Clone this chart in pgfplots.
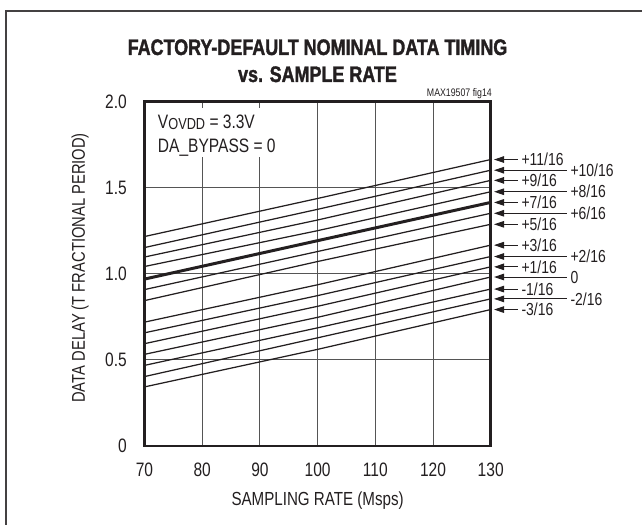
\documentclass[border=0pt]{standalone}
\usepackage{fontspec}
\setmainfont{Liberation Sans}[FakeStretch=0.8]
\newfontfamily\titlefont{Liberation Sans}[FakeStretch=0.8, BoldFeatures={FakeBold=1.5}]
\usepackage{pgfplots}
\pgfplotsset{compat=1.18}
\usetikzlibrary{arrows.meta}
\definecolor{ink}{RGB}{35,31,32}
\definecolor{gridc}{RGB}{85,85,85}
\begin{document}
\begin{tikzpicture}[x=1bp,y=1bp]
\path[use as bounding box] (0,0) rectangle (642,525);
\draw[ink!85, line width=1.5bp] (6,0) -- (6,514) -- (642,514);
\node[anchor=base, font=\titlefont\fontsize{22.5}{24}\selectfont\bfseries, text=ink, inner sep=0] at (317.5,470) {FACTORY-DEFAULT NOMINAL DATA TIMING};
\node[anchor=base, font=\titlefont\fontsize{22.5}{24}\selectfont\bfseries, text=ink, inner sep=0] at (317.5,443) {vs. SAMPLE RATE};
\node[anchor=base east, font=\fontsize{11}{12}\selectfont, text=ink, inner sep=0] at (492,428) {MAX19507 fig14};
\begin{axis}[
  at={(144.5bp,79bp)}, anchor=south west,
  width=346.2bp, height=344.5bp, scale only axis,
  xmin=70, xmax=130, ymin=0, ymax=2,
  xtick={70,80,...,130}, ytick={0,0.5,1,1.5,2},
  yticklabels={0,0.5,1.0,1.5,2.0},
  grid=major, major grid style={gridc, line width=0.9bp},
  major tick length=0pt,
  axis line style={ink, line width=2.8bp},
  tick label style={font=\fontsize{19.5}{21}\selectfont, text=ink, inner sep=0pt},
  /pgf/number format/assume math mode=true,
  xticklabel style={anchor=north, yshift=-16.5bp},
  yticklabel style={anchor=east, xshift=-17.5bp},
  xlabel={SAMPLING RATE (Msps)},
  ylabel={DATA DELAY (T FRACTIONAL PERIOD)},
  every axis x label/.style={at={(axis description cs:0.5,-0.1335)}, anchor=north, inner sep=0pt, font=\fontsize{19}{20}\selectfont, text=ink},
  every axis y label/.style={at={(axis description cs:-0.1863,0.517)}, rotate=90, anchor=center, inner sep=0pt, font=\fontsize{18.5}{20}\selectfont, text=ink},
  clip=false,
]
\addplot[ink, line width=1.25bp] coordinates {(70,1.216) (100,1.437) (130,1.663)};
\addplot[ink, line width=1.25bp] coordinates {(70,1.152) (100,1.374) (130,1.601)};
\addplot[ink, line width=1.25bp] coordinates {(70,1.097) (100,1.312) (130,1.542)};
\addplot[ink, line width=1.25bp] coordinates {(70,1.042) (100,1.250) (130,1.476)};
\addplot[ink, line width=3bp] coordinates {(70,0.969) (100,1.192) (130,1.414)};
\addplot[ink, line width=1.25bp] coordinates {(70,0.908) (100,1.129) (130,1.351)};
\addplot[ink, line width=1.25bp] coordinates {(70,0.844) (100,1.071) (130,1.287)};
\addplot[ink, line width=1.25bp] coordinates {(70,0.719) (100,0.936) (130,1.166)};
\addplot[ink, line width=1.25bp] coordinates {(70,0.657) (100,0.873) (130,1.100)};
\addplot[ink, line width=1.25bp] coordinates {(70,0.594) (100,0.811) (130,1.040)};
\addplot[ink, line width=1.25bp] coordinates {(70,0.532) (100,0.747) (130,0.981)};
\addplot[ink, line width=1.25bp] coordinates {(70,0.468) (100,0.686) (130,0.911)};
\addplot[ink, line width=1.25bp] coordinates {(70,0.403) (100,0.628) (130,0.854)};
\addplot[ink, line width=1.25bp] coordinates {(70,0.343) (100,0.561) (130,0.792)};
% text box
\fill[white] (axis cs:70.5,1.675) rectangle (axis cs:93,1.963);
\node[anchor=base west, inner sep=0, font=\fontsize{19.5}{21}\selectfont, text=ink] at (axis cs:72.3,1.846) {V\raisebox{-1.5bp}{\fontsize{16}{17}\selectfont OVDD} = 3.3V};
\node[anchor=base west, inner sep=0, font=\fontsize{19.5}{21}\selectfont, text=ink] at (axis cs:72.3,1.701) {DA\_BYPASS = 0};
% annotation anchors
\coordinate (a1) at (axis cs:130,1.663);
\coordinate (a2) at (axis cs:130,1.601);
\coordinate (a3) at (axis cs:130,1.542);
\coordinate (a4) at (axis cs:130,1.476);
\coordinate (a5) at (axis cs:130,1.414);
\coordinate (a6) at (axis cs:130,1.351);
\coordinate (a7) at (axis cs:130,1.287);
\coordinate (a8) at (axis cs:130,1.166);
\coordinate (a9) at (axis cs:130,1.100);
\coordinate (a10) at (axis cs:130,1.040);
\coordinate (a11) at (axis cs:130,0.981);
\coordinate (a12) at (axis cs:130,0.911);
\coordinate (a13) at (axis cs:130,0.854);
\coordinate (a14) at (axis cs:130,0.792);
\end{axis}
\tikzset{ann/.style={draw=ink, line width=1bp, {Triangle[length=10bp,width=6.5bp]}-},
         lab/.style={anchor=base west, inner sep=0, yshift=-6.2bp, xshift=3bp, font=\fontsize{17.5}{18}\selectfont, text=ink}}
\draw[ann] ([xshift=3.3bp]a1) -- ([xshift=27.3bp]a1) node[lab] {+11/16};
\draw[ann] ([xshift=3.3bp]a2) -- ([xshift=76.3bp]a2) node[lab] {+10/16};
\draw[ann] ([xshift=3.3bp]a3) -- ([xshift=27.3bp]a3) node[lab] {+9/16};
\draw[ann] ([xshift=3.3bp]a4) -- ([xshift=76.3bp]a4) node[lab] {+8/16};
\draw[ann] ([xshift=3.3bp]a5) -- ([xshift=27.3bp]a5) node[lab] {+7/16};
\draw[ann] ([xshift=3.3bp]a6) -- ([xshift=76.3bp]a6) node[lab] {+6/16};
\draw[ann] ([xshift=3.3bp]a7) -- ([xshift=27.3bp]a7) node[lab] {+5/16};
\draw[ann] ([xshift=3.3bp]a8) -- ([xshift=27.3bp]a8) node[lab] {+3/16};
\draw[ann] ([xshift=3.3bp]a9) -- ([xshift=76.3bp]a9) node[lab] {+2/16};
\draw[ann] ([xshift=3.3bp]a10) -- ([xshift=27.3bp]a10) node[lab] {+1/16};
\draw[ann] ([xshift=3.3bp]a11) -- ([xshift=76.3bp]a11) node[lab] {0};
\draw[ann] ([xshift=3.3bp]a12) -- ([xshift=27.3bp]a12) node[lab] {-1/16};
\draw[ann] ([xshift=3.3bp]a13) -- ([xshift=76.3bp]a13) node[lab] {-2/16};
\draw[ann] ([xshift=3.3bp]a14) -- ([xshift=27.3bp]a14) node[lab] {-3/16};
\end{tikzpicture}
\end{document}
